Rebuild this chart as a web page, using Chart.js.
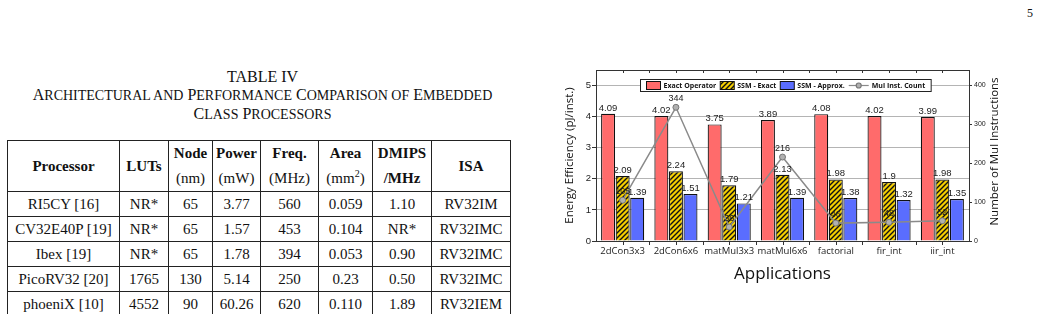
<!DOCTYPE html>
<html>
<head>
<meta charset="utf-8">
<script src="https://cdn.jsdelivr.net/npm/chart.js@4.4.1/dist/chart.umd.min.js"></script>
<style>
  body { margin: 0; width: 1041px; height: 314px; overflow: hidden; background: #fff; position: relative; font-family: "Liberation Serif", serif; color: #111; }
  .pagenum { position: absolute; left: 1027px; top: 6px; font-size: 12px; }
  .caption { position: absolute; left: 0; width: 525px; top: 68px; text-align: center; font-size: 16px; line-height: 18px; }
  .caption small { font-size: 14px; }
  table { position: absolute; left: 7px; top: 140px; border-collapse: collapse; table-layout: fixed; width: 503px; font-size: 15px; }
  td, th { border: 1px solid #222; text-align: center; padding: 0; white-space: nowrap; }
  th { font-weight: bold; line-height: 25px; }
  th span { font-weight: normal; }
  td { height: 24px; }
  #wrap { position: absolute; left: 548px; top: 62px; width: 470px; height: 228px; }
</style>
</head>
<body>
<div class="pagenum">5</div>
<div class="caption">TABLE IV<br>A<small>RCHITECTURAL AND</small> P<small>ERFORMANCE</small> C<small>OMPARISON OF</small> E<small>MBEDDED</small><br>C<small>LASS</small> P<small>ROCESSORS</small></div>
<table>
  <colgroup><col style="width:112px"><col style="width:49px"><col style="width:44px"><col style="width:48px"><col style="width:58px"><col style="width:54px"><col style="width:59px"><col style="width:79px"></colgroup>
  <tr><th>Processor</th><th>LUTs</th><th>Node<br><span>(nm)</span></th><th>Power<br><span>(mW)</span></th><th>Freq.<br><span>(MHz)</span></th><th>Area<br><span>(mm<sup style="font-size:10px;line-height:0">2</sup>)</span></th><th>DMIPS<br>/MHz</th><th>ISA</th></tr>
  <tr><td>RI5CY [16]</td><td>NR*</td><td>65</td><td>3.77</td><td>560</td><td>0.059</td><td>1.10</td><td>RV32IM</td></tr>
  <tr><td>CV32E40P [19]</td><td>NR*</td><td>65</td><td>1.57</td><td>453</td><td>0.104</td><td>NR*</td><td>RV32IMC</td></tr>
  <tr><td>Ibex [19]</td><td>NR*</td><td>65</td><td>1.78</td><td>394</td><td>0.053</td><td>0.90</td><td>RV32IMC</td></tr>
  <tr><td>PicoRV32 [20]</td><td>1765</td><td>130</td><td>5.14</td><td>250</td><td>0.23</td><td>0.50</td><td>RV32IMC</td></tr>
  <tr><td>phoeniX [10]</td><td>4552</td><td>90</td><td>60.26</td><td>620</td><td>0.110</td><td>1.89</td><td>RV32IEM</td></tr>
</table>
<div id="wrap"><canvas id="c" width="470" height="228"></canvas></div>
<script>
const categories = ['2dCon3x3', '2dCon6x6', 'matMul3x3', 'matMul6x6', 'factorial', 'fir_int', 'iir_int'];
const exactOperator = [4.09, 4.02, 3.75, 3.89, 4.08, 4.02, 3.99];
const ssmExact = [2.09, 2.24, 1.79, 2.13, 1.98, 1.9, 1.98];
const ssmApprox = [1.39, 1.51, 1.21, 1.39, 1.38, 1.32, 1.35];
const mulInstCount = [105, 344, 36, 216, 46, 48, 52];

const canvas = document.getElementById('c');
const ctx = canvas.getContext('2d');

// motif hachuré jaune/noir
function makeHatch() {
    const p = document.createElement('canvas');
    p.width = 5; p.height = 5;
    const g = p.getContext('2d');
    g.fillStyle = '#f5cf00';
    g.fillRect(0, 0, 5, 5);
    g.strokeStyle = '#111';
    g.lineWidth = 1.4;
    g.beginPath();
    g.moveTo(-1, 6); g.lineTo(6, -1);
    g.moveTo(-1, 1); g.lineTo(1, -1);
    g.moveTo(4, 6); g.lineTo(6, 4);
    g.stroke();
    return ctx.createPattern(p, 'repeat');
}
const hatch = makeHatch();

const valueLabels = {
    id: 'valueLabels',
    afterDatasetsDraw(chart) {
        const c = chart.ctx;
        c.save();
        c.fillStyle = '#222';
        c.textAlign = 'center';
        c.textBaseline = 'bottom';
        chart.data.datasets.forEach((ds, i) => {
            const meta = chart.getDatasetMeta(i);
            meta.data.forEach((el, j) => {
                if (ds.type === 'line') {
                    c.font = '9px "Liberation Sans"';
                    c.fillText(String(ds.data[j]), el.x, el.y - 4);
                } else {
                    c.font = '9.5px "Liberation Sans"';
                    c.fillText(String(ds.data[j]), el.x, el.y - 1);
                }
            });
        });
        c.restore();
    }
};

const frameAndLegend = {
    id: 'frameAndLegend',
    afterDraw(chart) {
        const c = chart.ctx;
        const ca = chart.chartArea;
        c.save();
        // cadre
        c.strokeStyle = '#333';
        c.lineWidth = 1;
        c.strokeRect(Math.round(ca.left) + 0.5, Math.round(ca.top) + 0.5, Math.round(ca.right - ca.left), Math.round(ca.bottom - ca.top));
        // petites graduations haut / bas
        const step = (ca.right - ca.left) / (categories.length * 2);
        c.beginPath();
        for (let i = 1; i < categories.length * 2; i++) {
            const x = Math.round(ca.left + i * step) + 0.5;
            c.moveTo(x, ca.bottom); c.lineTo(x, ca.bottom + 4);
            c.moveTo(x, ca.top); c.lineTo(x, ca.top + 3);
        }
        c.stroke();

        // titre de l'axe droit (lu de bas en haut)
        c.save();
        c.translate(ca.right + 26, (ca.top + ca.bottom) / 2 - 4);
        c.rotate(-Math.PI / 2);
        c.font = '11.5px "Open Sans"';
        c.fillStyle = '#111';
        c.textAlign = 'center';
        c.textBaseline = 'middle';
        c.fillText('Number of Mul Instructions', 0, 0);
        c.restore();

        // légende
        c.font = 'bold 7px "Open Sans"';
        c.textBaseline = 'middle';
        c.textAlign = 'left';
        const ds = chart.data.datasets;
        const pad = 6, sw = 14, gap = 3, sep = 4, lineSym = 20;
        let total = pad * 2;
        ds.forEach((d, i) => {
            total += (d.type === 'line' ? lineSym : sw) + gap + c.measureText(d.label).width;
            if (i < ds.length - 1) total += sep;
        });
        const bx = Math.round(ca.left + 44) + 0.5, by = Math.round(ca.top + 9) + 0.5, bh = 12;
        c.fillStyle = '#fff';
        c.fillRect(bx, by, total, bh);
        c.strokeStyle = '#222';
        c.strokeRect(bx, by, total, bh);
        let x = bx + pad;
        const cy = by + bh / 2;
        ds.forEach((d) => {
            if (d.type === 'line') {
                c.strokeStyle = d.borderColor;
                c.lineWidth = 1.2;
                c.beginPath(); c.moveTo(x, cy); c.lineTo(x + lineSym, cy); c.stroke();
                c.beginPath(); c.arc(x + lineSym / 2, cy, 2.5, 0, Math.PI * 2);
                c.fillStyle = d.pointBackgroundColor; c.fill();
                c.strokeStyle = d.pointBorderColor; c.stroke();
                x += lineSym + gap;
            } else {
                c.fillStyle = d.backgroundColor;
                c.fillRect(x, cy - 4, sw, 8);
                c.strokeStyle = '#111';
                c.lineWidth = 1;
                c.strokeRect(x, cy - 4, sw, 8);
                x += sw + gap;
            }
            c.fillStyle = '#111';
            c.fillText(d.label, x, cy + 0.5);
            x += c.measureText(d.label).width + sep;
        });
        c.restore();
    }
};

new Chart(ctx, {
    type: 'bar',
    data: {
        labels: categories,
        datasets: [
            {
                label: 'Exact Operator',
                data: exactOperator,
                backgroundColor: '#ff6b6b',
                borderColor: '#111',
                borderWidth: 1.2,
                yAxisID: 'y',
                order: 1
            },
            {
                label: 'SSM - Exact',
                data: ssmExact,
                backgroundColor: hatch,
                borderColor: '#111',
                borderWidth: 1.2,
                yAxisID: 'y',
                order: 1
            },
            {
                label: 'SSM - Approx.',
                data: ssmApprox,
                backgroundColor: '#5a6dff',
                borderColor: '#111',
                borderWidth: 1.2,
                yAxisID: 'y',
                order: 1
            },
            {
                type: 'line',
                label: 'Mul Inst. Count',
                data: mulInstCount,
                borderColor: '#8a8a8a',
                borderWidth: 1.5,
                pointRadius: 3,
                pointBackgroundColor: '#b0b0b0',
                pointBorderColor: '#777',
                pointBorderWidth: 1,
                yAxisID: 'y2',
                order: 0
            }
        ]
    },
    options: {
        responsive: false,
        animation: false,
        devicePixelRatio: 1,
        layout: { padding: { top: 8, left: 0, right: 0, bottom: 0 } },
        datasets: {
            bar: { categoryPercentage: 0.82, barPercentage: 0.96 }
        },
        plugins: {
            legend: { display: false },
            tooltip: { enabled: false }
        },
        scales: {
            x: {
                afterFit(scale) { scale.height = 49; },
                grid: { display: false, drawTicks: false },
                border: { display: false },
                ticks: { autoSkip: false, color: '#222', font: { family: 'Open Sans', size: 9.5 }, padding: 5, maxRotation: 0 },
                title: { display: true, text: 'Applications', color: '#111', font: { family: 'Open Sans', size: 17 }, padding: { top: 0, bottom: 6 } }
            },
            y: {
                position: 'left',
                min: 0,
                max: 5.5,
                afterFit(scale) { scale.width = 48; },
                grid: { color: '#b4b4b4', tickColor: '#333', tickLength: 4 },
                border: { display: false },
                ticks: { stepSize: 1, includeBounds: false, color: '#222', font: { family: 'Liberation Sans', size: 9.5 }, padding: 1 },
                title: { display: true, text: 'Energy Efficiency (pJ/inst.)', color: '#111', font: { family: 'Open Sans', size: 11.5 }, padding: { top: 15, bottom: 0 } }
            },
            y2: {
                position: 'right',
                min: 0,
                max: 440,
                afterFit(scale) { scale.width = 49; },
                grid: { drawOnChartArea: false, tickColor: '#333', tickLength: 3 },
                border: { display: false },
                ticks: { stepSize: 100, includeBounds: false, color: '#222', font: { family: 'Liberation Sans', size: 7 }, padding: 2 },
                title: { display: false }
            }
        }
    },
    plugins: [valueLabels, frameAndLegend]
});
</script>
</body>
</html>
